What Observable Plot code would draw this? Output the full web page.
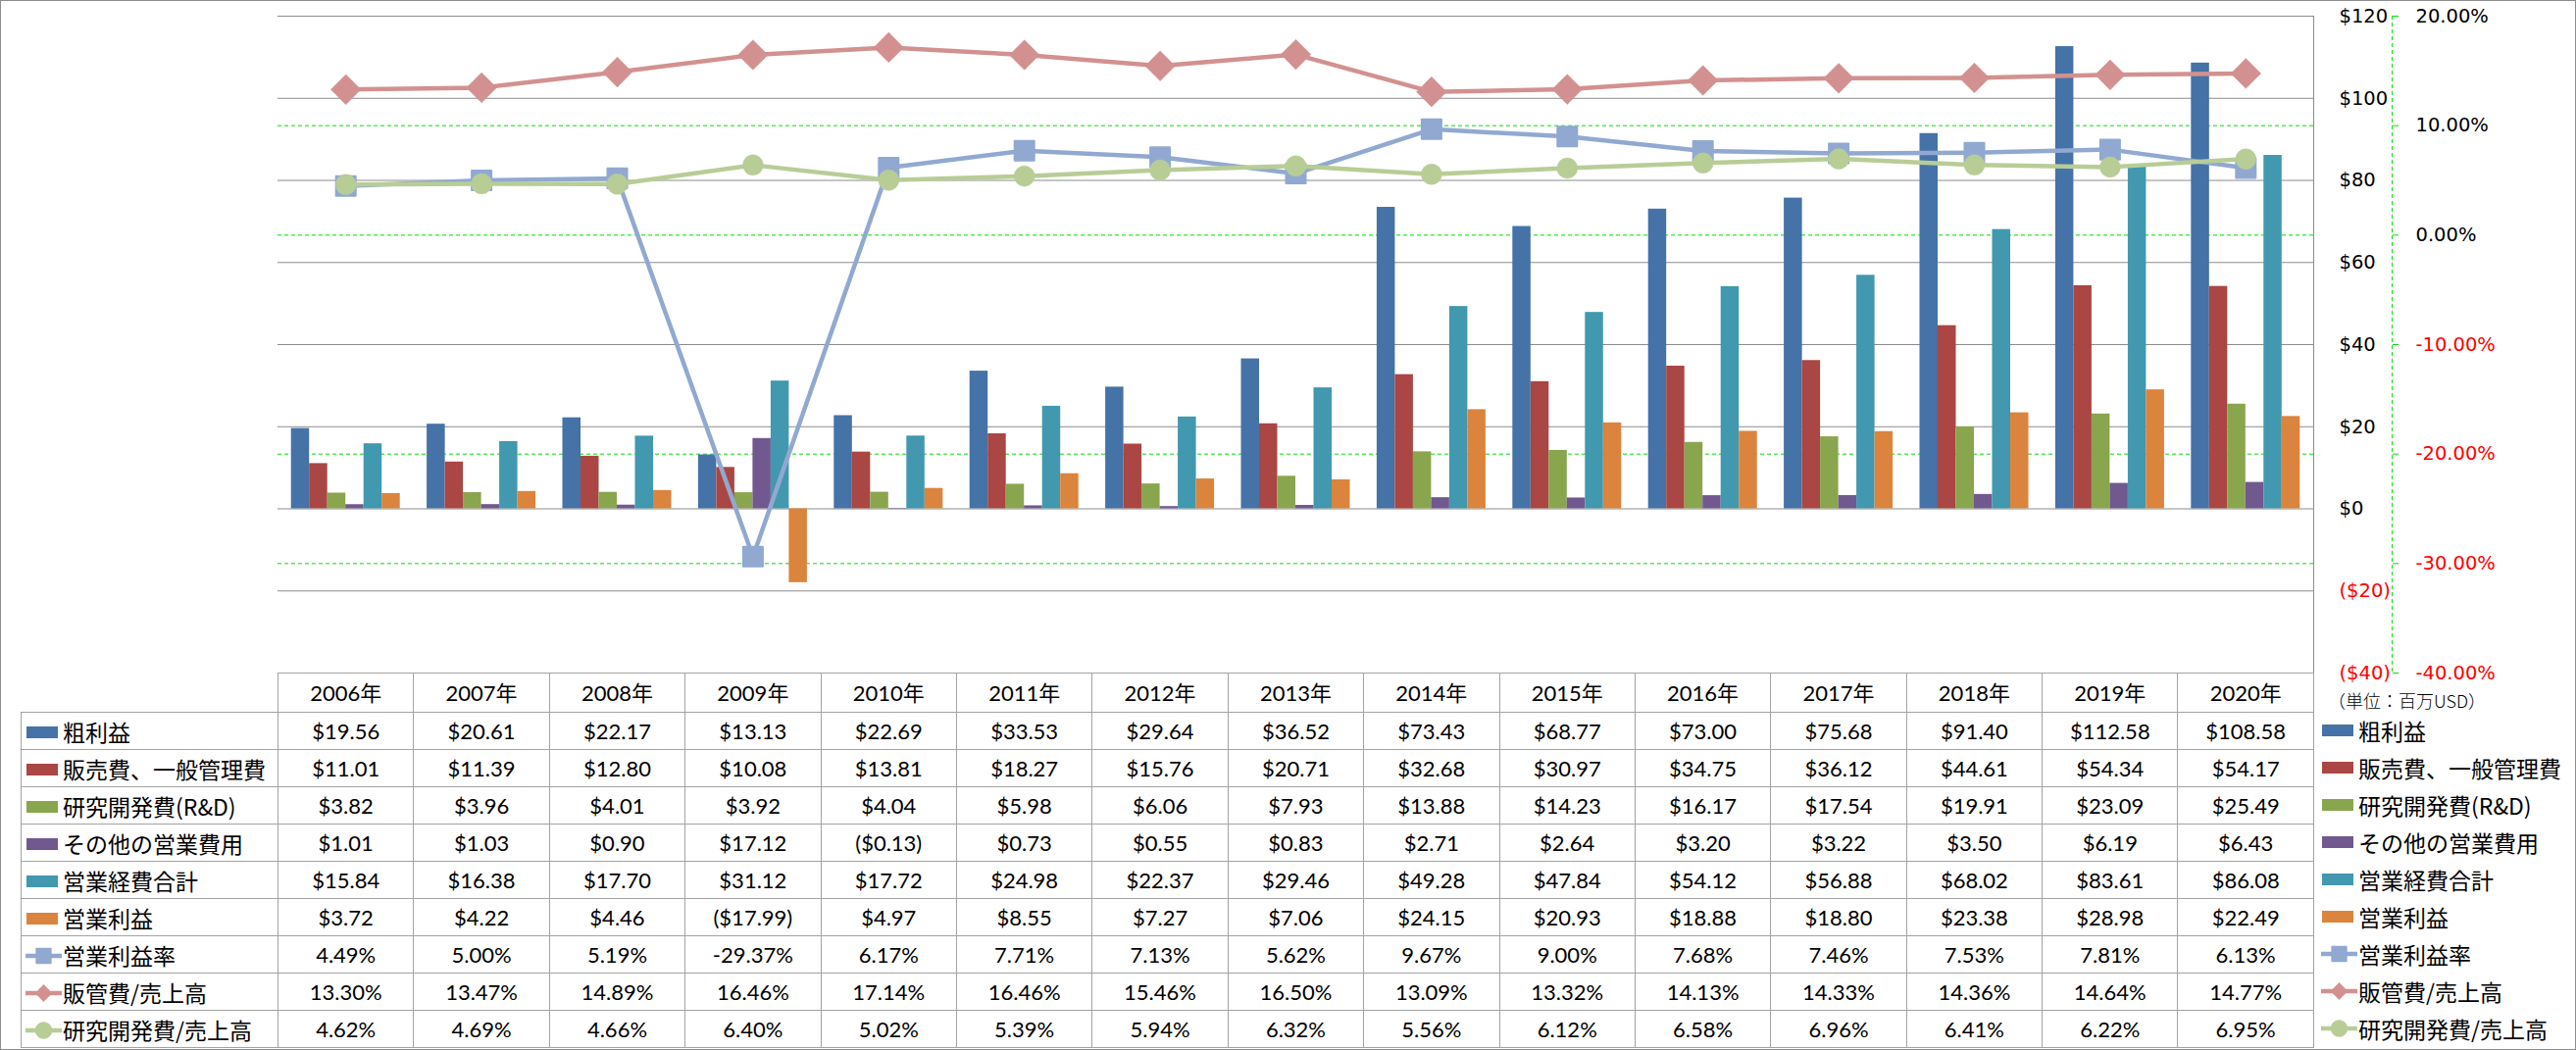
<!DOCTYPE html>
<html>
<head>
<meta charset="utf-8">
<script src="https://cdn.jsdelivr.net/npm/d3@7"></script>
<script src="https://cdn.jsdelivr.net/npm/@observablehq/plot@0.6"></script>
<style>
  html, body { margin: 0; padding: 0; background: #fff; }
  #chart { position: relative; width: 2627px; height: 1071px; background: #fff; overflow: hidden; }
  #frameBorder { position: absolute; left: 0; top: 0; width: 2627px; height: 1071px; box-sizing: border-box; border: 1px solid #8c8c8c; pointer-events: none; }
  table.dt { position: absolute; left: 21px; top: 686px; border-collapse: collapse; table-layout: fixed; width: 2338px;
             font-family: "Lato", "Noto Sans CJK JP", sans-serif; font-size: 22px; color: #000; }
  table.dt td { border: 1px solid #a3a3a3; text-align: center; padding: 0; height: 38px; box-sizing: border-box; white-space: nowrap; overflow: hidden; line-height: 1; }
  table.dt tr.hdr td { height: 40px; }
  table.dt td.blank { border-top: none; border-left: none; }
  table.dt td.lab { text-align: left; padding-left: 4px; font-family: "Noto Sans CJK JP", sans-serif; font-size: 23px; }
  .lab svg, .rl svg { vertical-align: middle; margin-right: 1px; }
  .lab span, .rl span { vertical-align: middle; }
  #rightLegend { position: absolute; left: 2367px; top: 726px; font-family: "Noto Sans CJK JP", sans-serif; font-size: 23px; color: #000; }
  .rl { height: 38px; display: flex; align-items: center; white-space: nowrap; }
  #unit { position: absolute; left: 2374px; top: 705px; font-family: "Noto Sans CJK JP", sans-serif; font-size: 18px; line-height: 1; color: #000; font-weight: 300; }
</style>
</head>
<body>
<div id="chart"></div>
<script>
// ---------------- data ----------------
const years = ["2006年","2007年","2008年","2009年","2010年","2011年","2012年","2013年","2014年","2015年","2016年","2017年","2018年","2019年","2020年"];

const grossProfit   = [19.56, 20.61, 22.17, 13.13, 22.69, 33.53, 29.64, 36.52, 73.43, 68.77, 73.00, 75.68, 91.40, 112.58, 108.58];
const sgaExpense    = [11.01, 11.39, 12.80, 10.08, 13.81, 18.27, 15.76, 20.71, 32.68, 30.97, 34.75, 36.12, 44.61, 54.34, 54.17];
const rdExpense     = [3.82, 3.96, 4.01, 3.92, 4.04, 5.98, 6.06, 7.93, 13.88, 14.23, 16.17, 17.54, 19.91, 23.09, 25.49];
const otherOpex     = [1.01, 1.03, 0.90, 17.12, -0.13, 0.73, 0.55, 0.83, 2.71, 2.64, 3.20, 3.22, 3.50, 6.19, 6.43];
const totalOpex     = [15.84, 16.38, 17.70, 31.12, 17.72, 24.98, 22.37, 29.46, 49.28, 47.84, 54.12, 56.88, 68.02, 83.61, 86.08];
const opIncome      = [3.72, 4.22, 4.46, -17.99, 4.97, 8.55, 7.27, 7.06, 24.15, 20.93, 18.88, 18.80, 23.38, 28.98, 22.49];

const opMargin      = [4.49, 5.00, 5.19, -29.37, 6.17, 7.71, 7.13, 5.62, 9.67, 9.00, 7.68, 7.46, 7.53, 7.81, 6.13];
const sgaRatio      = [13.30, 13.47, 14.89, 16.46, 17.14, 16.46, 15.46, 16.50, 13.09, 13.32, 14.13, 14.33, 14.36, 14.64, 14.77];
const rdRatio       = [4.62, 4.69, 4.66, 6.40, 5.02, 5.39, 5.94, 6.32, 5.56, 6.12, 6.58, 6.96, 6.41, 6.22, 6.95];

const barNames  = ["粗利益","販売費、一般管理費","研究開発費(R&D)","その他の営業費用","営業経費合計","営業利益"];
const barValues = [grossProfit, sgaExpense, rdExpense, otherOpex, totalOpex, opIncome];
const barColors = ["#4572A7","#AA4643","#89A54E","#71588F","#4198AF","#DB843D"];

const lineNames   = ["営業利益率","販管費/売上高","研究開発費/売上高"];
const lineValues  = [opMargin, sgaRatio, rdRatio];
const lineColors  = ["#91A9D1","#D29190","#B8CD96"];
const lineSymbols = ["square","diamond2","circle"];

const usdTicks = [-40,-20,0,20,40,60,80,100,120];
const pctTicks = [-40,-30,-20,-10,0,10,20];

// ---------------- helpers ----------------
const fmtUSDaxis = v => v < 0 ? `($${Math.abs(v)})` : `$${v}`;
const fmtUSD = v => v < 0 ? `($${Math.abs(v).toFixed(2)})` : `$${v.toFixed(2)}`;
const fmtPct = v => `${v.toFixed(2)}%`;

const W = 2627, H = 720;
const base = {width: W, height: H, marginTop: 16, marginBottom: 34, marginLeft: 283, marginRight: 268};
const layerStyle = "position:absolute;left:0;top:0;background:transparent;overflow:visible;font-family:'DejaVu Sans',sans-serif;font-size:19.5px;";
const GRID = "#8c8c8c", GREEN = "#00e000";

const chart = document.getElementById("chart");

// Layer 1: secondary (percent) grid + axis (axis line at the frame's right edge)
const pLayer = Plot.plot({
  ...base, marginRight: 188,
  style: layerStyle,
  x: {domain: [0, 1], axis: null},
  y: {domain: [-40, 20]},
  marks: [
    Plot.tickY(pctTicks, {y: d => d, insetRight: 80, stroke: GREEN, strokeDasharray: "4,3", strokeWidth: 1}),
    Plot.ruleX([1], {stroke: GREEN, strokeDasharray: "4,3"}),
    Plot.axisY(pctTicks.filter(d => d >= 0), {anchor: "right", tickSize: 6, tickPadding: 18, stroke: GREEN, fill: "black", tickFormat: fmtPct, label: null}),
    Plot.axisY(pctTicks.filter(d => d < 0), {anchor: "right", tickSize: 6, tickPadding: 18, stroke: GREEN, fill: "red", tickFormat: fmtPct, label: null})
  ]
});
chart.appendChild(pLayer);

// Layer 2: primary ($) grid + axis
const uLayer = Plot.plot({
  ...base,
  style: layerStyle,
  x: {domain: [0, 1], axis: null},
  y: {domain: [-40, 120]},
  marks: [
    Plot.ruleY(usdTicks, {stroke: GRID, strokeWidth: 1}),
    Plot.ruleX([1], {stroke: GRID}),
    Plot.axisY(usdTicks.filter(d => d >= 0), {anchor: "right", tickSize: 0, tickPadding: 26, fill: "black", tickFormat: fmtUSDaxis, label: null}),
    Plot.axisY(usdTicks.filter(d => d < 0), {anchor: "right", tickSize: 0, tickPadding: 26, fill: "red", tickFormat: fmtUSDaxis, label: null})
  ]
});
chart.appendChild(uLayer);

// Layer 3: grouped bars
const barRows = barNames.flatMap((name, s) => years.map((yr, i) => ({year: yr, series: name, value: barValues[s][i]})));
const bLayer = Plot.plot({
  ...base,
  style: layerStyle,
  fx: {domain: years, paddingInner: 0.198, paddingOuter: 0.099, round: false, axis: null, label: null},
  x: {domain: barNames, padding: 0, round: false, axis: null, label: null},
  y: {domain: [-40, 120], axis: null},
  color: {domain: barNames, range: barColors},
  marks: [
    Plot.barY(barRows, {fx: "year", x: "series", y: "value", fill: "series"})
  ]
});
chart.appendChild(bLayer);

// Layer 4: ratio lines (secondary axis)
const lineMarks = lineNames.flatMap((name, s) => {
  const rows = years.map((yr, i) => ({year: yr, value: lineValues[s][i]}));
  const r = s === 0 ? 11.3 : s === 1 ? 13.8 : 10.5;
  return [
    Plot.line(rows, {x: "year", y: "value", stroke: lineColors[s], strokeWidth: 4.5}),
    Plot.dot(rows, {x: "year", y: "value", symbol: lineSymbols[s], r, fill: lineColors[s],
                    stroke: lineColors[s], strokeWidth: s === 0 ? 2 : 0.5, strokeLinejoin: "round"})
  ];
});
const lLayer = Plot.plot({
  ...base,
  style: layerStyle,
  x: {type: "point", domain: years, padding: 0.5, round: false, axis: null},
  y: {domain: [-40, 20], axis: null},
  marks: lineMarks
});
chart.appendChild(lLayer);

// ---------------- legend glyphs ----------------
function glyph(sel, kind, s) {
  const svg = sel.append("svg").attr("width", 37).attr("height", 22);
  if (kind === "bar") {
    svg.append("rect").attr("x", 1).attr("y", 5).attr("width", 32).attr("height", 12).attr("fill", barColors[s]);
  } else {
    svg.append("line").attr("x1", 0).attr("x2", 37).attr("y1", 11).attr("y2", 11)
      .attr("stroke", lineColors[s]).attr("stroke-width", 4.5);
    const type = s === 0 ? d3.symbolSquare : s === 1 ? d3.symbolDiamond2 : d3.symbolCircle;
    const size = s === 0 ? 220 : s === 1 ? 190 : 230;
    svg.append("path").attr("transform", "translate(18.5,11)").attr("d", d3.symbol(type, size)())
      .attr("fill", lineColors[s]).attr("stroke", lineColors[s]).attr("stroke-linejoin", "round").attr("stroke-width", s === 0 ? 1.5 : 0.5);
  }
}

// ---------------- data table ----------------
const table = d3.select(chart).append("table").attr("class", "dt");
const cg = table.append("colgroup");
cg.append("col").style("width", "262px");
years.forEach(() => cg.append("col").style("width", (2076 / years.length) + "px"));

const hdr = table.append("tr").attr("class", "hdr");
hdr.append("td").attr("class", "blank");
years.forEach(y => hdr.append("td").text(y));

barNames.forEach((name, s) => {
  const tr = table.append("tr");
  const lab = tr.append("td").attr("class", "lab");
  glyph(lab, "bar", s);
  lab.append("span").text(name);
  barValues[s].forEach(v => tr.append("td").text(fmtUSD(v)));
});
lineNames.forEach((name, s) => {
  const tr = table.append("tr");
  const lab = tr.append("td").attr("class", "lab");
  glyph(lab, "line", s);
  lab.append("span").text(name);
  lineValues[s].forEach(v => tr.append("td").text(fmtPct(v)));
});

// ---------------- right legend ----------------
d3.select(chart).append("div").attr("id", "unit").text("（単位：百万USD）");
const rl = d3.select(chart).append("div").attr("id", "rightLegend");
barNames.forEach((name, s) => { const d = rl.append("div").attr("class", "rl"); glyph(d, "bar", s); d.append("span").text(name); });
lineNames.forEach((name, s) => { const d = rl.append("div").attr("class", "rl"); glyph(d, "line", s); d.append("span").text(name); });

d3.select(chart).append("div").attr("id", "frameBorder");
</script>
</body>
</html>
